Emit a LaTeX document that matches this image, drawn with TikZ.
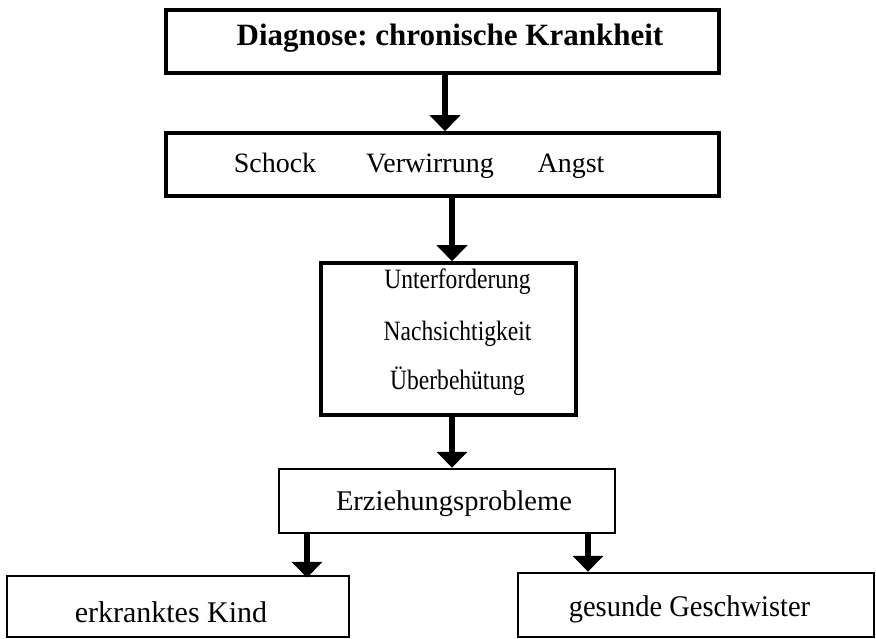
\documentclass[tikz,border=0pt]{standalone}
\usepackage{fontspec}
\setmainfont{Liberation Serif}
\usetikzlibrary{arrows.meta}
\frenchspacing
\begin{document}
\begin{tikzpicture}[x=1pt,y=-1pt,
  boxA/.style={draw,line width=3.5pt,rectangle,inner sep=0pt},
  boxB/.style={draw,line width=2.5pt,rectangle,inner sep=0pt},
  txt/.style={inner sep=0pt,anchor=base},
  arr/.style={line width=6pt,-{Triangle[width=30pt,length=16pt]}}]
\useasboundingbox (0,0) rectangle (876,639);
% boxes
\node[boxA,minimum width=553pt,minimum height=63pt] (b1) at (442.5,41.5) {};
\node[boxA,minimum width=553pt,minimum height=63pt] (b2) at (442.5,164.5) {};
\node[boxA,minimum width=255pt,minimum height=152pt] (b3) at (448.5,339) {};
\node[boxB,minimum width=336pt,minimum height=64pt] (b4) at (447,501) {};
\node[boxB,minimum width=342pt,minimum height=61pt] (b5) at (178,606.5) {};
\node[boxB,minimum width=356pt,minimum height=64pt] (b6) at (696,605) {};
% texts
\node[txt] (t1) at (450,46) {\fontsize{31}{36}\selectfont\bfseries Diagnose: chronische Krankheit};
\node[txt] (t2a) at (275,173) {\fontsize{28}{32}\selectfont Schock};
\node[txt] (t2b) at (430,173) {\fontsize{28}{32}\selectfont Verwirrung};
\node[txt] (t2c) at (571,173) {\fontsize{28}{32}\selectfont Angst};
\node[txt] (t3a) at (457.5,289) {\scalebox{0.84}[1]{\fontsize{28}{32}\selectfont Unterforderung}};
\node[txt] (t3b) at (457.5,340) {\scalebox{0.84}[1]{\fontsize{28}{32}\selectfont Nachsichtigkeit}};
\node[txt] (t3c) at (457.5,389) {\scalebox{0.84}[1]{\fontsize{28}{32}\selectfont Überbehütung}};
\node[txt] (t4) at (454,510) {\fontsize{28.5}{32}\selectfont Erziehungsprobleme};
\node[txt] (t5) at (171,622) {\fontsize{30}{34}\selectfont erkranktes Kind};
\node[txt] (t6) at (689.5,616) {\scalebox{0.95}[1]{\fontsize{30}{34}\selectfont gesunde Geschwister}};
% arrows
\draw[arr] (b1.south -| 445,0) -- (b2.north -| 445,0);
\draw[arr] (b2.south -| 452,0) -- (b3.north -| 452,0);
\draw[arr] (b3.south -| 452,0) -- (b4.north -| 452,0);
\draw[arr] (b4.south -| 307,0) -- ([yshift=-3pt]b5.north -| 307,0);
\draw[arr] (b4.south -| 588,0) -- (b6.north -| 588,0);
\end{tikzpicture}
\end{document}
